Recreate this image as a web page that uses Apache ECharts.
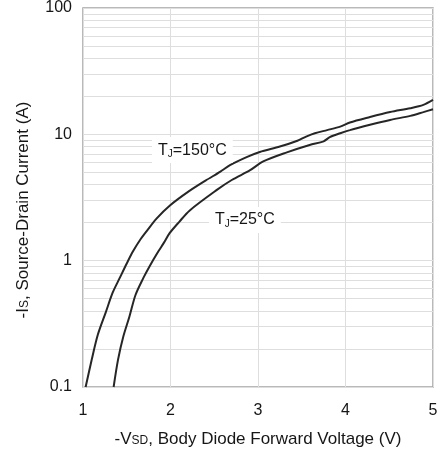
<!DOCTYPE html>
<html>
<head>
<meta charset="utf-8">
<script src="https://cdn.jsdelivr.net/npm/echarts@6/dist/echarts.min.js"></script>
<style>
html,body{margin:0;padding:0;background:#fff;}
#c{width:442px;height:455px;}
</style>
</head>
<body>
<div id="c"></div>
<script>
// Data
const v150 = [1.03,1.10,1.17,1.26,1.34,1.42,1.50,1.57,1.65,1.73,1.84,1.99,2.20,2.40,2.57,2.68,2.87,3.02,3.25,3.45,3.55,3.65,3.79,3.94,4.05,4.28,4.51,4.74,4.89,5.0];
const i150 = [0.10,0.165,0.26,0.39,0.56,0.73,0.95,1.18,1.45,1.72,2.15,2.72,3.5,4.3,5.07,5.7,6.6,7.25,8.0,8.9,9.6,10.2,10.8,11.5,12.4,13.7,15.0,16.1,17.1,18.7];
const v25 = [1.35,1.40,1.46,1.53,1.60,1.69,1.76,1.86,1.92,1.99,2.10,2.22,2.53,2.70,2.91,3.06,3.33,3.59,3.75,3.82,3.94,4.05,4.28,4.51,4.74,4.89,5.0];
const i25 = [0.10,0.164,0.25,0.36,0.535,0.73,0.90,1.18,1.37,1.65,2.03,2.5,3.63,4.35,5.2,6.1,7.2,8.24,8.8,9.5,10.2,10.8,11.9,13.0,14.0,15.0,15.8];
const xTicks = [1,2,3,4,5];
const yTicks = [0.1,1,10,100];
const minorGrid = [0.2,0.3,0.4,0.5,0.6,0.7,0.8,0.9,2,3,4,5,6,7,8,9,20,30,40,50,60,70,80,90];
const labels = [
  {name:'150', coord:[2.25,7.5], text:'{a|T}{b|J}{a|=150°C}'},
  {name:'25', coord:[2.85,2.1], text:'{a|T}{b|J}{a|=25°C}'}
];

const FONT = 'Liberation Sans, Arial, sans-serif';
const TXT = '#161616';
const GRIDC = '#dedede';

const chart = echarts.init(document.getElementById('c'), null, {renderer:'canvas'});
const zip = (a,b)=>a.map((v,i)=>[v,b[i]]);
const richLbl = {
  a:{fontSize:16, fontFamily:FONT, color:TXT, lineHeight:20},
  b:{fontSize:10, fontFamily:FONT, color:TXT, padding:[8,0,0,0], lineHeight:20}
};

chart.setOption({
  backgroundColor:'#fff',
  animation:false,
  grid:{left:83, right:9, top:8, bottom:68, show:true, borderColor:'#a3a3a3', borderWidth:1.5, backgroundColor:'transparent'},
  xAxis:{
    type:'value', min:1, max:5, interval:1,
    axisLine:{show:false}, axisTick:{show:false},
    splitLine:{show:true, lineStyle:{color:GRIDC, width:1}},
    axisLabel:{fontSize:16, fontFamily:FONT, color:TXT, margin:16,
      formatter:(v)=> xTicks.includes(v) ? String(v) : ''},
    name:'{n|-V}{s|SD}{n|, Body Diode Forward Voltage (V)}',
    nameLocation:'middle', nameGap:42,
    nameTextStyle:{rich:{
      n:{fontSize:17, fontFamily:FONT, color:TXT, lineHeight:20},
      s:{fontSize:12, fontFamily:FONT, color:TXT, lineHeight:20, padding:[4,0,0,0]}
    }}
  },
  yAxis:{
    type:'log', logBase:10, min:0.1, max:100,
    axisLine:{show:false}, axisTick:{show:false},
    splitLine:{show:true, lineStyle:{color:GRIDC, width:1}},
    axisLabel:{fontSize:16, fontFamily:FONT, color:TXT, margin:11,
      formatter:(v)=>{ const t = yTicks.find(k=>Math.abs(k-v)/k<1e-6); return t===undefined?'':String(t);} }
  },
  graphic:[{
    type:'text', rotation:Math.PI/2,
    x:23, y:210,
    style:{
      text:'{n|-I}{s|S}{n|, Source-Drain Current (A)}',
      rich:{
        n:{fontSize:17, fontFamily:FONT, fill:TXT, lineHeight:20},
        s:{fontSize:12, fontFamily:FONT, fill:TXT, lineHeight:20, padding:[4,0,0,0]}
      },
      align:'center', verticalAlign:'middle'
    }
  }],
  series:[
    {
      type:'line', data:zip(v150,i150), showSymbol:false, smooth:0.3,
      lineStyle:{color:'#262626', width:2}, z:5,
      markLine:{
        silent:true, symbol:'none', label:{show:false},
        lineStyle:{color:GRIDC, width:1, type:'solid'},
        data: minorGrid.map(v=>({yAxis:v})), z:1
      },
      markPoint:{
        symbol:'rect', symbolSize:1, itemStyle:{color:'rgba(0,0,0,0)'},
        data: labels.map(l=>({name:l.name, coord:l.coord,
          label:{show:true, position:'inside', formatter:l.text, rich:richLbl,
            backgroundColor:'#fff', padding:[3,6,3,6]}})),
        z:10
      }
    },
    {
      type:'line', data:zip(v25,i25), showSymbol:false, smooth:0.3,
      lineStyle:{color:'#262626', width:2}, z:5
    }
  ]
});
</script>
</body>
</html>
